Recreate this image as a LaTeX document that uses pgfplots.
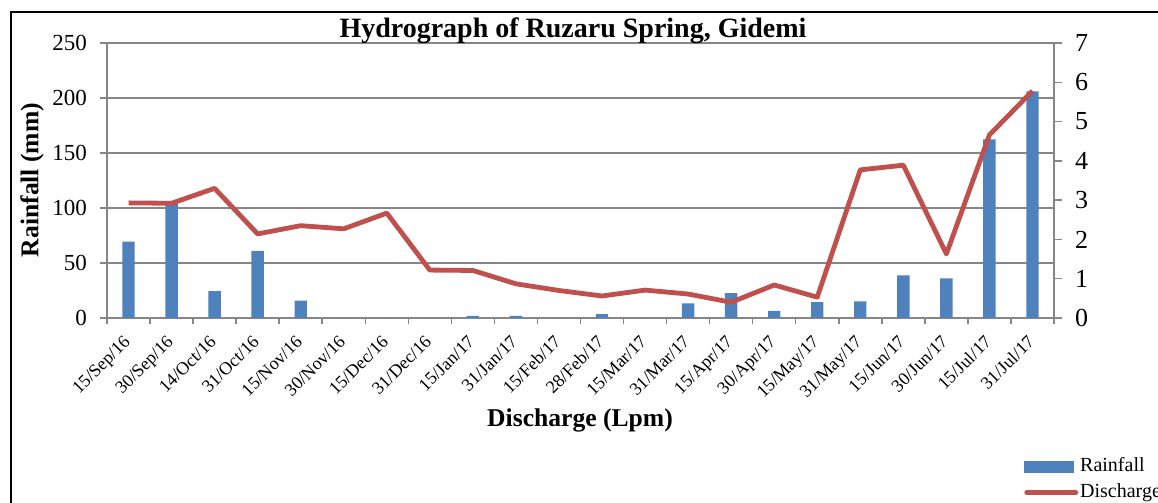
\documentclass[border=0pt]{standalone}
\usepackage{fontspec}
\setmainfont{Liberation Serif}
\usepackage{pgfplots}
\usepackage{pgfplotstable}
\pgfplotsset{compat=1.18}

\definecolor{rainblue}{RGB}{79,129,189}
\definecolor{dischred}{RGB}{192,80,77}
\definecolor{axgray}{RGB}{134,134,134}

% rainfall (mm) and discharge (Lpm), one row per reading
\pgfplotstableread{
idx rain dis
0  69.4  2.93
1  104   2.92
2  24.5  3.30
3  61    2.14
4  15.7  2.35
5  0     2.27
6  0     2.67
7  0     1.22
8  2     1.21
9  2     0.87
10 0     0.70
11 3.5   0.56
12 0     0.71
13 13.3  0.61
14 22.7  0.40
15 6.4   0.84
16 14.5  0.53
17 15.1  3.77
18 38.8  3.89
19 36    1.63
20 162.4 4.66
21 206   5.78
}\hydro

\pgfplotsset{
  common/.style={
    scale only axis, width=473.5pt, height=137.5pt,
    at={(53.5pt,92.5pt)}, anchor=south west,
    xmin=-0.5, xmax=21.5, ymin=0,
    axis line style={axgray, line width=0.75pt},
    tick style={axgray, line width=0.75pt},
    tick align=outside,
    /pgf/number format/assume math mode=true,
  }
}

\begin{document}
\begin{tikzpicture}
\path[use as bounding box] (0,0) rectangle (579pt,251.5pt);

\begin{axis}[common,
  ymax=250, ytick={0,50,...,250},
  axis y line*=left, axis x line*=bottom,
  ymajorgrids, grid style={axgray, line width=0.75pt},
  major tick length=3.5pt, minor tick length=3pt,
  xtick={0,...,21},
  xticklabels={15/Sep/16,30/Sep/16,14/Oct/16,31/Oct/16,15/Nov/16,30/Nov/16,15/Dec/16,31/Dec/16,15/Jan/17,31/Jan/17,15/Feb/17,28/Feb/17,15/Mar/17,31/Mar/17,15/Apr/17,30/Apr/17,15/May/17,31/May/17,15/Jun/17,30/Jun/17,15/Jul/17,31/Jul/17},
  major x tick style={draw=none},
  minor xtick={-0.5,0.5,...,21.5},
  xticklabel style={xshift=-3pt, yshift=-3pt, rotate=45, anchor=north east, inner sep=1pt,
    font=\fontsize{9}{11}\selectfont},
  yticklabel style={font=\fontsize{11.5}{13}\selectfont, xshift=-3pt},
]
\addplot[ybar, bar width=6.2pt, fill=rainblue, draw=none] table[x=idx, y=rain] {\hydro};
\end{axis}

\begin{axis}[common,
  ymax=7, ytick={0,...,7},
  axis y line*=right, axis x line=none,
  major tick length=4pt,
  yticklabel style={font=\fontsize{13}{15}\selectfont, xshift=3pt},
  legend style={at={(0.9683,-0.5055)}, anchor=north west, draw=none, fill=none,
    inner sep=0pt, row sep=4pt, column sep=1pt,
    font=\fontsize{10}{12}\selectfont,
    nodes={inner sep=0pt, text height=7pt, text depth=2pt}},
  legend cell align=left,
]
\addlegendimage{legend image code/.code={\fill[rainblue] (0pt,-2.75pt) rectangle (24.5pt,2.75pt);}}
\addlegendentry{Rainfall}
\addplot[dischred, line width=2.4pt, line join=round,
  legend image code/.code={\draw[dischred, line width=2.4pt, line cap=round] (1pt,0pt) -- (25.5pt,0pt);}]
  table[x=idx, y=dis] {\hydro};
\addlegendentry{Discharge}
\end{axis}

\node[font=\fontsize{14}{16}\selectfont\bfseries, anchor=base] at (286.5pt,232.5pt) {Hydrograph of Ruzaru Spring, Gidemi};
\node[rotate=90, font=\fontsize{12.8}{15}\selectfont\bfseries] at (16pt,161.5pt) {Rainfall (mm)};
\node[font=\fontsize{12.8}{15}\selectfont\bfseries, anchor=base] at (290pt,38pt) {Discharge (Lpm)};

\draw[line width=1pt] (5.5pt,-20pt) rectangle (620pt,245.5pt);
\end{tikzpicture}
\end{document}
